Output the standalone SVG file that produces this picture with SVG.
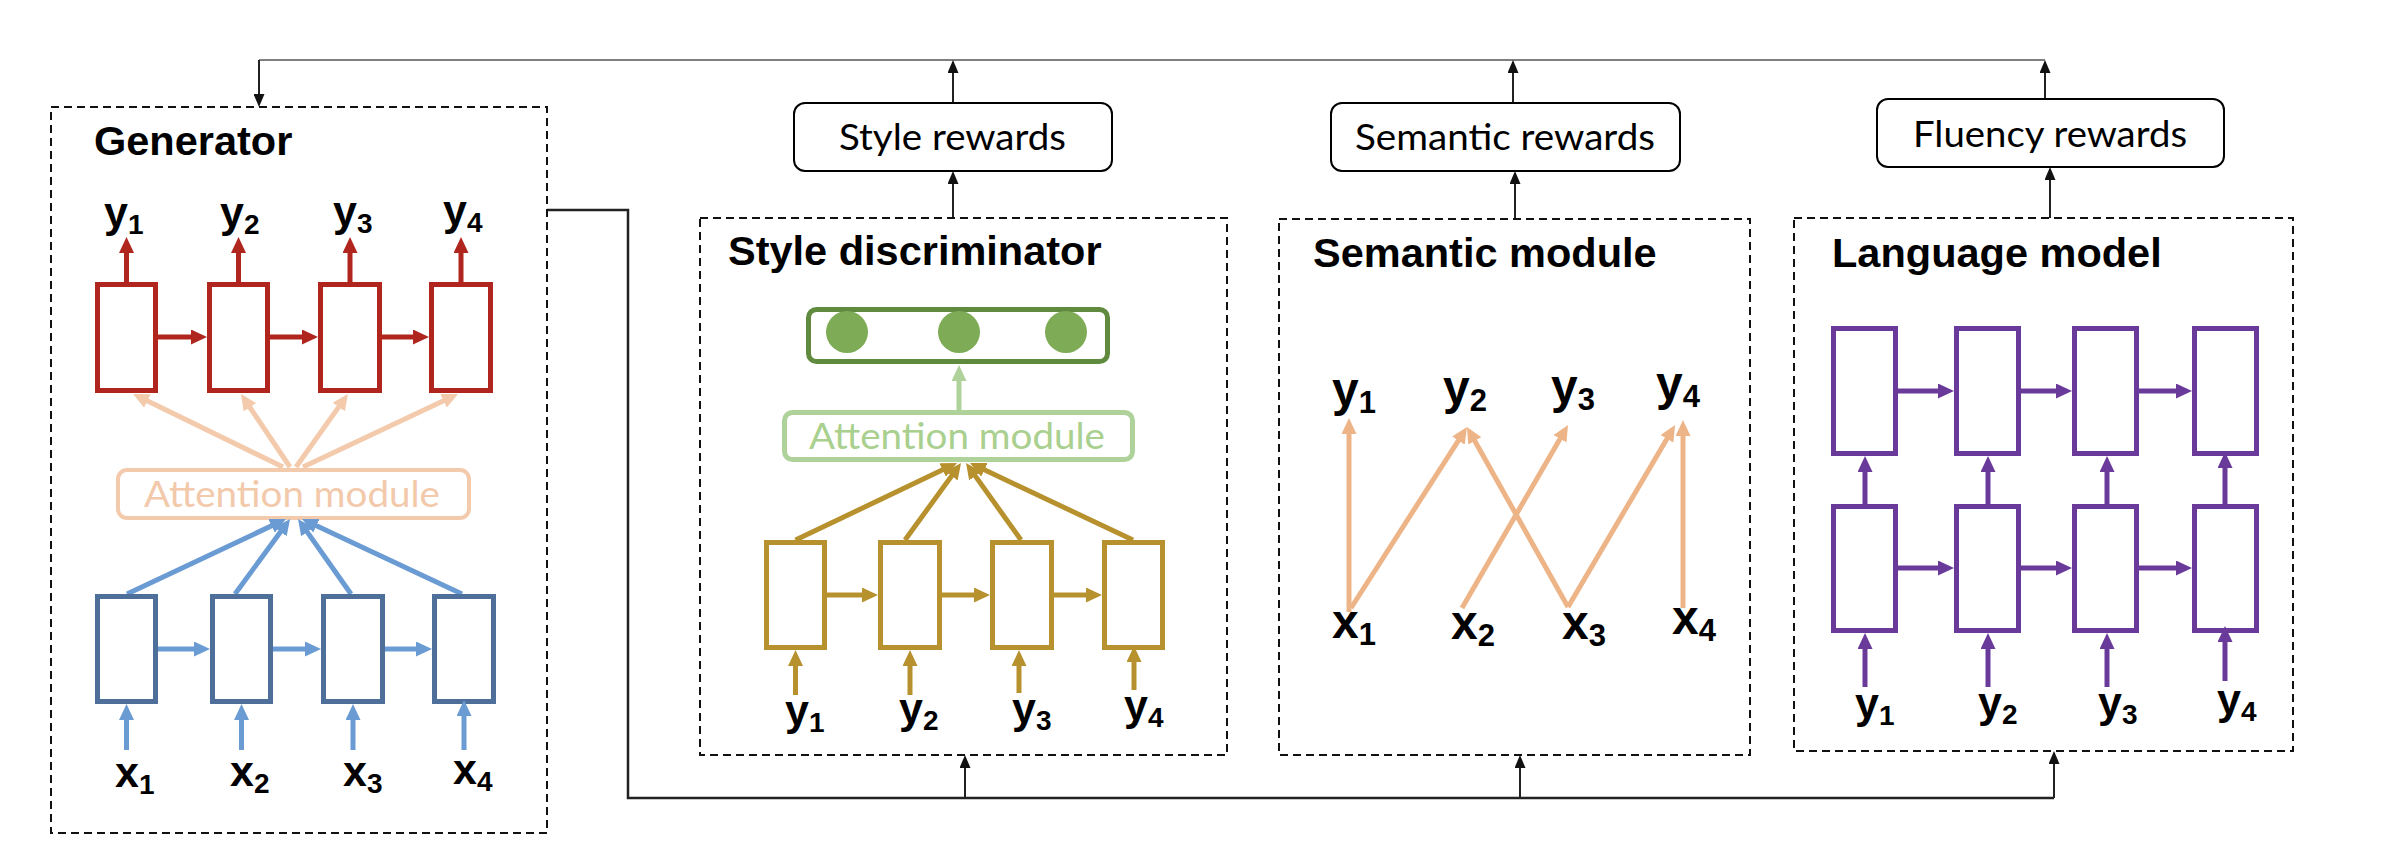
<svg xmlns="http://www.w3.org/2000/svg" width="2386" height="862" viewBox="0 0 2386 862">
<style>
.dash{fill:none;stroke:#111;stroke-width:2;stroke-dasharray:8 5}
.title{font-family:"Liberation Sans",Arial,sans-serif;font-weight:bold;font-size:41.5px;fill:#000}
.v{font-family:"Liberation Sans",Arial,sans-serif;font-weight:bold;font-size:43px;fill:#000}
.vb{font-family:"Liberation Sans",Arial,sans-serif;font-weight:bold;font-size:48px;fill:#000}
.s{font-size:28px}
.sb{font-size:31px}
.rw{font-family:Lato,"Open Sans",sans-serif;font-size:37px;fill:#000}
.rwbox{fill:#fff;stroke:#000;stroke-width:2}
.att{font-family:Lato,"Open Sans",sans-serif;font-size:37px}
.k{fill:none;stroke:#222;stroke-width:2;marker-end:url(#mk)}
.red{fill:#fff;stroke:#B0261F;stroke-width:5}
.redl{stroke:#B0261F;stroke-width:5;fill:none;marker-end:url(#mred)}
.blu{fill:#fff;stroke:#4D6F9A;stroke-width:5}
.blul{stroke:#6A9BD3;stroke-width:5;fill:none;marker-end:url(#mblu)}
.pch{stroke:#F3CAAB;stroke-width:5;fill:none;marker-end:url(#mpch)}
.gld{fill:#fff;stroke:#B8912F;stroke-width:5}
.gldl{stroke:#B8912F;stroke-width:5;fill:none;marker-end:url(#mgld)}
.sem{stroke:#EDB587;stroke-width:5;fill:none;marker-end:url(#msem)}
.pur{fill:#fff;stroke:#6A3A9B;stroke-width:5}
.purl{stroke:#6A3A9B;stroke-width:5;fill:none;marker-end:url(#mpur)}
</style>
<defs>
<marker id="mk" markerUnits="userSpaceOnUse" markerWidth="13" markerHeight="11" refX="10" refY="5.5" orient="auto"><path d="M0,0 L13,5.5 L0,11 z" fill="#111"/></marker>
<marker id="mred" markerUnits="userSpaceOnUse" markerWidth="16" markerHeight="15" refX="10" refY="7.5" orient="auto"><path d="M0,0 L16,7.5 L0,15 z" fill="#B0261F"/></marker>
<marker id="mblu" markerUnits="userSpaceOnUse" markerWidth="16" markerHeight="15" refX="10" refY="7.5" orient="auto"><path d="M0,0 L16,7.5 L0,15 z" fill="#6A9BD3"/></marker>
<marker id="mpch" markerUnits="userSpaceOnUse" markerWidth="16" markerHeight="15" refX="10" refY="7.5" orient="auto"><path d="M0,0 L16,7.5 L0,15 z" fill="#F3CAAB"/></marker>
<marker id="mgld" markerUnits="userSpaceOnUse" markerWidth="16" markerHeight="15" refX="10" refY="7.5" orient="auto"><path d="M0,0 L16,7.5 L0,15 z" fill="#B8912F"/></marker>
<marker id="mlg" markerUnits="userSpaceOnUse" markerWidth="16" markerHeight="15" refX="10" refY="7.5" orient="auto"><path d="M0,0 L16,7.5 L0,15 z" fill="#AFD29B"/></marker>
<marker id="msem" markerUnits="userSpaceOnUse" markerWidth="16" markerHeight="15" refX="10" refY="7.5" orient="auto"><path d="M0,0 L16,7.5 L0,15 z" fill="#EDB587"/></marker>
<marker id="mpur" markerUnits="userSpaceOnUse" markerWidth="16" markerHeight="15" refX="10" refY="7.5" orient="auto"><path d="M0,0 L16,7.5 L0,15 z" fill="#6A3A9B"/></marker>
</defs>
<rect width="2386" height="862" fill="#fff"/>

<g id="connectors">
<polyline points="259,60 2045,60" fill="none" stroke="#555" stroke-width="1.5"/>
<line class="k" x1="259" y1="60" x2="259" y2="104"/>
<line class="k" x1="953" y1="103" x2="953" y2="63"/>
<line class="k" x1="1513" y1="103" x2="1513" y2="63"/>
<line class="k" x1="2045" y1="99" x2="2045" y2="63"/>
<line class="k" x1="953" y1="218" x2="953" y2="174"/>
<line class="k" x1="1515" y1="219" x2="1515" y2="174"/>
<line class="k" x1="2050" y1="218" x2="2050" y2="170"/>
<polyline points="547,210 628,210 628,798 2054,798" fill="none" stroke="#222" stroke-width="2.5"/>
<line class="k" x1="965" y1="798" x2="965" y2="758"/>
<line class="k" x1="1520" y1="798" x2="1520" y2="758"/>
<line class="k" x1="2054" y1="798" x2="2054" y2="754"/>
</g>

<g id="generator">
<rect class="dash" x="51" y="107" width="496" height="726"/>
<text class="title" x="94" y="155">Generator</text>
<rect class="red" x="97.5" y="284.5" width="58" height="106"/>
<rect class="red" x="209.5" y="284.5" width="58" height="106"/>
<rect class="red" x="320.5" y="284.5" width="59" height="106"/>
<rect class="red" x="431.5" y="284.5" width="59" height="106"/>
<line class="redl" x1="126.5" y1="282" x2="126.5" y2="243"/>
<line class="redl" x1="238.5" y1="282" x2="238.5" y2="243"/>
<line class="redl" x1="350" y1="282" x2="350" y2="243"/>
<line class="redl" x1="461" y1="282" x2="461" y2="243"/>
<line class="redl" x1="158" y1="337" x2="201" y2="337"/>
<line class="redl" x1="270" y1="337" x2="312" y2="337"/>
<line class="redl" x1="382" y1="337" x2="423" y2="337"/>
<text class="v" x="104" y="227">y<tspan class="s" dy="7">1</tspan></text>
<text class="v" x="220" y="227">y<tspan class="s" dy="7">2</tspan></text>
<text class="v" x="333" y="226">y<tspan class="s" dy="7">3</tspan></text>
<text class="v" x="443" y="225">y<tspan class="s" dy="7">4</tspan></text>
<line class="pch" x1="283" y1="467" x2="138.4" y2="396.6"/>
<line class="pch" x1="290" y1="467" x2="244.3" y2="399"/>
<line class="pch" x1="296" y1="467" x2="344.5" y2="398.9"/>
<line class="pch" x1="303" y1="467" x2="452.6" y2="396.6"/>
<rect x="118" y="470" width="351" height="48" rx="9" fill="#fff" stroke="#F3CAAB" stroke-width="4"/>
<text class="att" x="144" y="507" textLength="296" lengthAdjust="spacingAndGlyphs" fill="#F3C9AB">Attention module</text>
<line class="blul" x1="127" y1="594" x2="280.6" y2="521.6"/>
<line class="blul" x1="235" y1="594" x2="286.5" y2="523.8"/>
<line class="blul" x1="351" y1="594" x2="301.5" y2="523.9"/>
<line class="blul" x1="462" y1="594" x2="307.4" y2="521.5"/>
<rect class="blu" x="97.5" y="596.5" width="58" height="105"/>
<rect class="blu" x="212.5" y="596.5" width="58" height="105"/>
<rect class="blu" x="323.5" y="596.5" width="59" height="105"/>
<rect class="blu" x="434.5" y="596.5" width="59" height="105"/>
<line class="blul" x1="158" y1="649" x2="204" y2="649"/>
<line class="blul" x1="273" y1="649" x2="315" y2="649"/>
<line class="blul" x1="385" y1="649" x2="426" y2="649"/>
<line class="blul" x1="126.5" y1="750" x2="126.5" y2="710"/>
<line class="blul" x1="241.5" y1="750" x2="241.5" y2="710"/>
<line class="blul" x1="353" y1="750" x2="353" y2="710"/>
<line class="blul" x1="464" y1="750" x2="464" y2="706"/>
<text class="v" x="115" y="787">x<tspan class="s" dy="7">1</tspan></text>
<text class="v" x="230" y="786">x<tspan class="s" dy="7">2</tspan></text>
<text class="v" x="343" y="786">x<tspan class="s" dy="7">3</tspan></text>
<text class="v" x="453" y="784">x<tspan class="s" dy="7">4</tspan></text>
</g>

<g id="style-rewards">
<rect class="rwbox" x="794" y="103" width="318" height="68" rx="11"/>
<text class="rw" x="839" y="150" textLength="227" lengthAdjust="spacingAndGlyphs">Style rewards</text>
</g>
<g id="semantic-rewards">
<rect class="rwbox" x="1331" y="103" width="349" height="68" rx="11"/>
<text class="rw" x="1355" y="150" textLength="300" lengthAdjust="spacingAndGlyphs">Semantic rewards</text>
</g>
<g id="fluency-rewards">
<rect class="rwbox" x="1877" y="99" width="347" height="68" rx="11"/>
<text class="rw" x="1913" y="147" textLength="274" lengthAdjust="spacingAndGlyphs">Fluency rewards</text>
</g>

<g id="style-discriminator">
<rect class="dash" x="700" y="218" width="527" height="537"/>
<text class="title" x="728" y="265">Style discriminator</text>
<rect x="808.5" y="309.5" width="299" height="52" rx="8" fill="#fff" stroke="#608B3F" stroke-width="5"/>
<circle cx="847" cy="332" r="21" fill="#7EAB55"/>
<circle cx="959" cy="332" r="21" fill="#7EAB55"/>
<circle cx="1066" cy="332" r="21" fill="#7EAB55"/>
<line x1="959" y1="410" x2="959" y2="371" stroke="#AFD29B" stroke-width="5" marker-end="url(#mlg)"/>
<rect x="784.5" y="412.5" width="348" height="47" rx="8" fill="#fff" stroke="#AFD29B" stroke-width="5"/>
<text class="att" x="809" y="449" textLength="296" lengthAdjust="spacingAndGlyphs" fill="#A9D08E">Attention module</text>
<line class="gldl" x1="795.5" y1="540" x2="951.6" y2="465.6"/>
<line class="gldl" x1="905" y1="540" x2="957.5" y2="467.9"/>
<line class="gldl" x1="1021" y1="540" x2="969.5" y2="467.9"/>
<line class="gldl" x1="1133" y1="540" x2="975.4" y2="465.6"/>
<rect class="gld" x="766.5" y="542.5" width="58" height="105"/>
<rect class="gld" x="880.5" y="542.5" width="59" height="105"/>
<rect class="gld" x="992.5" y="542.5" width="59" height="105"/>
<rect class="gld" x="1104.5" y="542.5" width="58" height="105"/>
<line class="gldl" x1="827" y1="595" x2="872" y2="595"/>
<line class="gldl" x1="942" y1="595" x2="984" y2="595"/>
<line class="gldl" x1="1054" y1="595" x2="1096" y2="595"/>
<line class="gldl" x1="795.5" y1="695" x2="795.5" y2="656"/>
<line class="gldl" x1="910" y1="695" x2="910" y2="656"/>
<line class="gldl" x1="1019" y1="693" x2="1019" y2="656"/>
<line class="gldl" x1="1134" y1="690" x2="1134" y2="652"/>
<text class="v" x="785" y="725">y<tspan class="s" dy="7">1</tspan></text>
<text class="v" x="899" y="723">y<tspan class="s" dy="7">2</tspan></text>
<text class="v" x="1012" y="723">y<tspan class="s" dy="7">3</tspan></text>
<text class="v" x="1124" y="720">y<tspan class="s" dy="7">4</tspan></text>
</g>

<g id="semantic-module">
<rect class="dash" x="1279" y="219" width="471" height="536"/>
<text class="title" x="1313" y="267">Semantic module</text>
<text class="vb" x="1332" y="406">y<tspan class="sb" dy="7">1</tspan></text>
<text class="vb" x="1443" y="404">y<tspan class="sb" dy="7">2</tspan></text>
<text class="vb" x="1551" y="403">y<tspan class="sb" dy="7">3</tspan></text>
<text class="vb" x="1656" y="400">y<tspan class="sb" dy="7">4</tspan></text>
<line class="sem" x1="1349" y1="612" x2="1349" y2="424"/>
<line class="sem" x1="1351" y1="608" x2="1463.8" y2="432.1"/>
<line class="sem" x1="1462" y1="608" x2="1565" y2="430.2"/>
<line class="sem" x1="1568" y1="607" x2="1469.9" y2="432.2"/>
<line class="sem" x1="1568" y1="607" x2="1672" y2="430.2"/>
<line class="sem" x1="1683" y1="608" x2="1683" y2="426"/>
<text class="vb" x="1332" y="638">x<tspan class="sb" dy="7">1</tspan></text>
<text class="vb" x="1451" y="639">x<tspan class="sb" dy="7">2</tspan></text>
<text class="vb" x="1562" y="639">x<tspan class="sb" dy="7">3</tspan></text>
<text class="vb" x="1672" y="634">x<tspan class="sb" dy="7">4</tspan></text>
</g>

<g id="language-model">
<rect class="dash" x="1794" y="218" width="499" height="533"/>
<text class="title" x="1832" y="267">Language model</text>
<rect class="pur" x="1833.5" y="328.5" width="62" height="125"/>
<rect class="pur" x="1956.5" y="328.5" width="62" height="125"/>
<rect class="pur" x="2074.5" y="328.5" width="62" height="125"/>
<rect class="pur" x="2194.5" y="328.5" width="62" height="125"/>
<rect class="pur" x="1833.5" y="506.5" width="62" height="124"/>
<rect class="pur" x="1956.5" y="506.5" width="62" height="124"/>
<rect class="pur" x="2074.5" y="506.5" width="62" height="124"/>
<rect class="pur" x="2194.5" y="506.5" width="62" height="124"/>
<line class="purl" x1="1898" y1="391" x2="1948" y2="391"/>
<line class="purl" x1="2021" y1="391" x2="2066" y2="391"/>
<line class="purl" x1="2139" y1="391" x2="2186" y2="391"/>
<line class="purl" x1="1898" y1="568" x2="1948" y2="568"/>
<line class="purl" x1="2021" y1="568" x2="2066" y2="568"/>
<line class="purl" x1="2139" y1="568" x2="2186" y2="568"/>
<line class="purl" x1="1865" y1="504" x2="1865" y2="462"/>
<line class="purl" x1="1988" y1="504" x2="1988" y2="462"/>
<line class="purl" x1="2107" y1="504" x2="2107" y2="462"/>
<line class="purl" x1="2225" y1="504" x2="2225" y2="458"/>
<line class="purl" x1="1865" y1="687" x2="1865" y2="639"/>
<line class="purl" x1="1988" y1="687" x2="1988" y2="639"/>
<line class="purl" x1="2107" y1="687" x2="2107" y2="639"/>
<line class="purl" x1="2225" y1="681" x2="2225" y2="632"/>
<text class="v" x="1855" y="718">y<tspan class="s" dy="7">1</tspan></text>
<text class="v" x="1978" y="717">y<tspan class="s" dy="7">2</tspan></text>
<text class="v" x="2098" y="717">y<tspan class="s" dy="7">3</tspan></text>
<text class="v" x="2217" y="714">y<tspan class="s" dy="7">4</tspan></text>
</g>
</svg>
